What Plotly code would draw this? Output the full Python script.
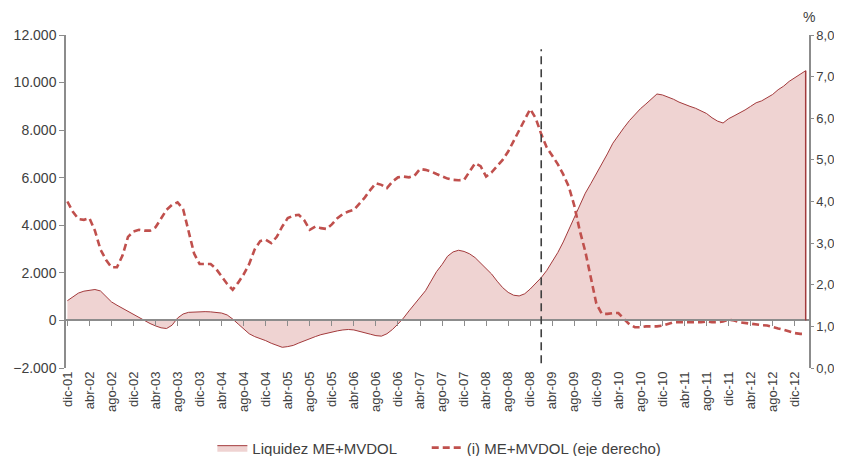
import plotly.graph_objects as go

# ---- data (monthly, dic-01 .. feb-13) ----
month_abbr = ["ene", "feb", "mar", "abr", "may", "jun", "jul", "ago", "sep", "oct", "nov", "dic"]
months = ["dic-01"] + [f"{m}-{y:02d}" for y in range(2, 13) for m in month_abbr] + ["ene-13", "feb-13"]

liquidez = [
    830, 1000, 1150, 1230, 1280, 1300, 1240, 1000, 780, 640,
    510, 380, 250, 120, 0, -130, -230, -310, -340, -200,
    100, 270, 340, 360, 370, 370, 360, 350, 310, 230,
    60, -150, -350, -560, -680, -760, -850, -960, -1060, -1130,
    -1100, -1050, -950, -850, -760, -680, -600, -540, -480, -440,
    -400, -380, -400, -450, -520, -580, -640, -660, -560, -380,
    -150, 100, 400, 700, 950, 1250, 1650, 2050, 2350, 2700,
    2880, 2950, 2900, 2800, 2640, 2420, 2200, 1950, 1650, 1380,
    1180, 1060, 1030, 1120, 1320, 1560, 1800, 2100, 2450, 2850,
    3300, 3800, 4300, 4850, 5350, 5750, 6150, 6550, 7000, 7450,
    7800, 8100, 8400, 8650, 8900, 9100, 9300, 9520, 9480, 9400,
    9300, 9180, 9080, 9000, 8920, 8820, 8700, 8520, 8380, 8300,
    8480, 8600, 8720, 8850, 9000, 9150, 9230, 9350, 9500, 9700,
    9850, 10050, 10200, 10350, 10500,
]

tasa = [
    4.00, 3.75, 3.58, 3.56, 3.60, 3.30, 2.85, 2.60, 2.42, 2.42,
    2.70, 3.15, 3.28, 3.32, 3.30, 3.30, 3.38, 3.60, 3.80, 3.92,
    3.98, 3.82, 3.30, 2.75, 2.50, 2.50, 2.50, 2.38, 2.20, 2.02,
    1.88, 2.05, 2.25, 2.50, 2.85, 3.05, 3.08, 3.00, 3.15, 3.40,
    3.60, 3.66, 3.68, 3.55, 3.32, 3.40, 3.36, 3.34, 3.45, 3.60,
    3.70, 3.76, 3.80, 3.95, 4.10, 4.28, 4.44, 4.40, 4.32, 4.48,
    4.58, 4.60, 4.58, 4.62, 4.78, 4.76, 4.72, 4.66, 4.60, 4.55,
    4.52, 4.51, 4.52, 4.72, 4.92, 4.85, 4.60, 4.70, 4.85, 5.00,
    5.20, 5.45, 5.70, 5.95, 6.22, 6.00, 5.62, 5.30, 5.10, 4.90,
    4.65, 4.36, 3.90, 3.30, 2.80, 2.20, 1.55, 1.30, 1.30, 1.32,
    1.32, 1.18, 1.05, 0.98, 0.98, 1.00, 1.00, 1.00, 1.02, 1.06,
    1.10, 1.10, 1.10, 1.10, 1.10, 1.10, 1.12, 1.10, 1.10, 1.12,
    1.16, 1.14, 1.10, 1.08, 1.06, 1.04, 1.03, 1.02, 0.98, 0.95,
    0.92, 0.88, 0.84, 0.82, 0.82,
]

tick_labels = months[0:133:4]
marker_month = "feb-09"          # vertical dashed reference line
marker_span = [-1800, 11400]

AREA_FILL = "#EFD3D2"
AREA_LINE = "#A33A3C"
DASH_COL = "#C0504D"
AX_COL = "#8C8C8C"
TXT = "#404040"
FONT = "Liberation Sans, Arial, sans-serif"

x_range = [-0.25, len(months) - 1 + 0.6]

fig = go.Figure()
fig.add_trace(go.Scatter(
    x=months, y=liquidez, name="Liquidez ME+MVDOL",
    mode="lines", line=dict(color=AREA_LINE, width=1),
    fill="tozeroy", fillcolor=AREA_FILL,
    xaxis="x", yaxis="y", legend="legend",
))
fig.add_trace(go.Scatter(
    x=months, y=tasa, name="(i) ME+MVDOL (eje derecho)",
    mode="lines", line=dict(color=DASH_COL, width=2.6, dash="7px,4px"),
    xaxis="x2", yaxis="y2", legend="legend2",
))

# vertical edge closing the area at the last month
fig.add_shape(type="line", xref="x", yref="y",
              x0=months[-1], x1=months[-1], y0=0, y1=liquidez[-1],
              line=dict(color=AREA_LINE, width=1.5))
# vertical dashed reference line
fig.add_shape(type="line", xref="x", yref="y",
              x0=marker_month, x1=marker_month, y0=marker_span[0], y1=marker_span[1],
              line=dict(color="#404040", width=1.6, dash="8px,5px"))

fig.add_annotation(text="%", xref="paper", yref="paper", x=1.0, y=1.055,
                   showarrow=False, font=dict(size=14, color=TXT, family=FONT),
                   xanchor="center", yanchor="middle")

leg_common = dict(orientation="h", y=-0.24, yanchor="middle", xanchor="left",
                  font=dict(size=15, color=TXT, family=FONT),
                  itemwidth=30, bgcolor="rgba(0,0,0,0)")

# page body adds an 8px margin; figure is sized to fit the 842x456 window
fig.update_layout(
    width=834, height=448,
    margin=dict(l=58, r=33, t=27, b=88, autoexpand=False),
    paper_bgcolor="white", plot_bgcolor="white",
    separators=",.",
    font=dict(family=FONT, color=TXT, size=13),
    showlegend=True,
    legend=dict(x=0.197, **leg_common),
    legend2=dict(x=0.4855, **leg_common),
    xaxis=dict(type="category", range=x_range, tickmode="array",
               tickvals=tick_labels, ticktext=tick_labels, tickangle=-90,
               showline=False, ticks="", showgrid=False, zeroline=False,
               automargin=False,
               tickfont=dict(size=13, color=TXT, family=FONT)),
    xaxis2=dict(type="category", range=x_range, overlaying="x", anchor="free",
                position=0.144, side="bottom", tickmode="array",
                tickvals=tick_labels, showticklabels=False,
                showline=True, linecolor=AX_COL, linewidth=1.5,
                ticks="outside", ticklen=5, tickcolor=AX_COL, tickwidth=1,
                showgrid=False, zeroline=False),
    yaxis=dict(range=[-2000, 12000], dtick=2000, tickformat=",.0f",
               showline=True, linecolor=AX_COL, linewidth=1.5,
               ticks="outside", ticklen=5, tickcolor=AX_COL,
               showgrid=False, zeroline=False, automargin=False,
               tickfont=dict(size=14, color=TXT, family=FONT)),
    yaxis2=dict(range=[0, 8], dtick=1, tickformat=".1f", side="right",
                overlaying="y", anchor="x",
                showline=True, linecolor=AX_COL, linewidth=1.5,
                ticks="outside", ticklen=3, tickcolor=AX_COL,
                showgrid=False, zeroline=False, automargin=False,
                tickfont=dict(size=13, color=TXT, family=FONT)),
)

fig.write_html("out.html")
